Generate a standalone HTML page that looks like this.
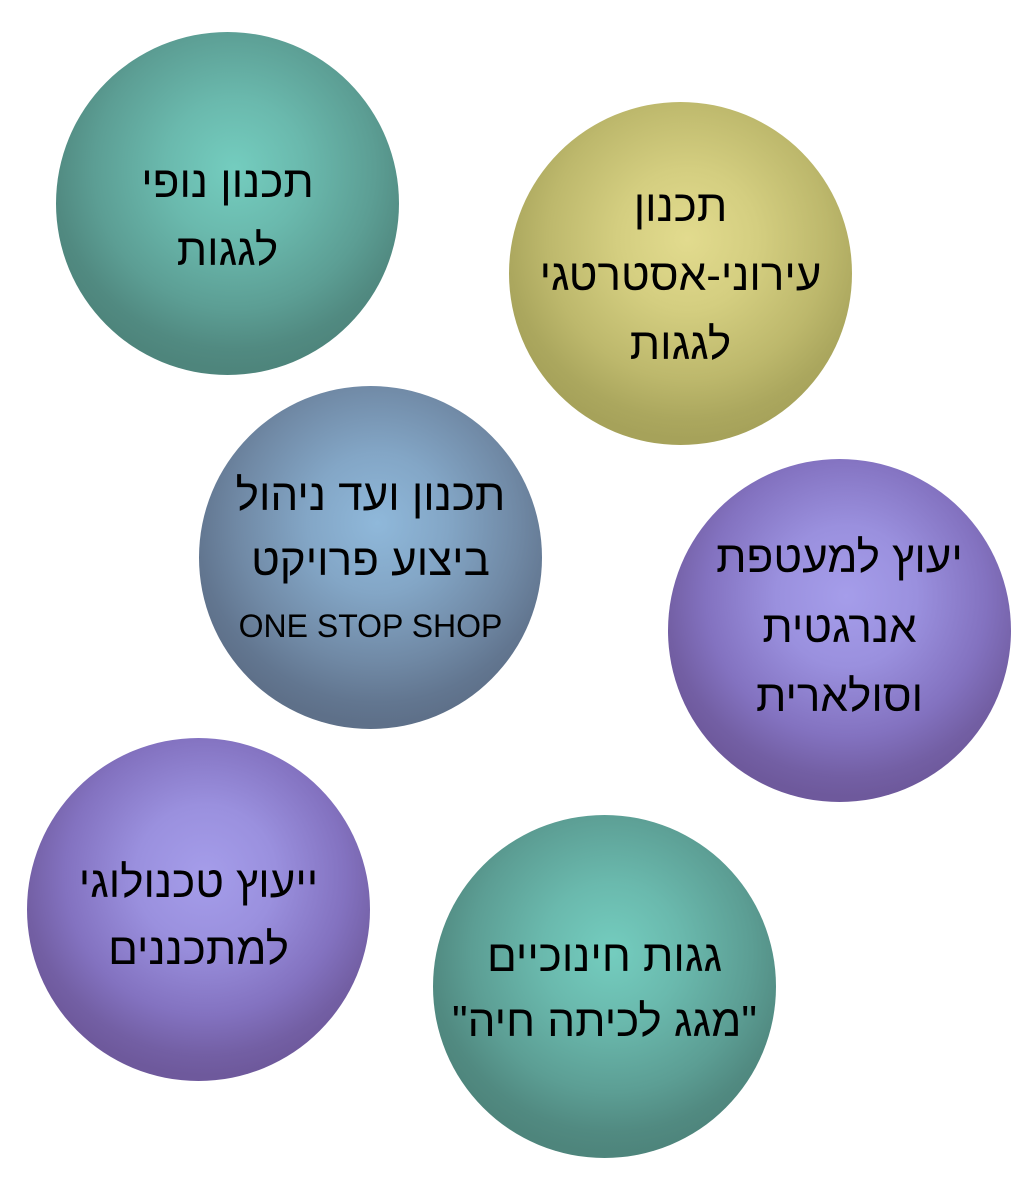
<!DOCTYPE html>
<html><head><meta charset="utf-8"><style>
html,body{margin:0;padding:0;background:#fff;}
body{width:1033px;height:1200px;position:relative;overflow:hidden;font-family:"Liberation Sans","DejaVu Sans",sans-serif;}
.c{position:absolute;border-radius:50%;width:343px;height:343px;}
.t{position:absolute;left:0;width:100%;text-align:center;direction:rtl;font-size:44px;color:#000;line-height:1;white-space:nowrap;}
.teal{background:radial-gradient(circle 200px at 52% 40%,#74cdbf 0%,#6ab9ad 35%,#5c9e94 70%,#518a81 90%,#4e857c 100%);}
.olive{background:radial-gradient(circle 200px at 52% 40%,#e2db8e 0%,#d4ce80 35%,#bdb86c 70%,#aba75e 90%,#a6a25a 100%);}
.blue{background:radial-gradient(circle 200px at 52% 40%,#8fb8da 0%,#83a6c6 35%,#7089a5 70%,#627690 90%,#5e7089 100%);}
.purple{background:radial-gradient(circle 200px at 52% 40%,#a59dea 0%,#9a90de 35%,#8372c0 70%,#735fa4 90%,#6e599c 100%);}
</style></head><body>
<div class="c teal" style="left:56px;top:32px;">
 <div class="t" style="top:129px">תכנון נופי</div>
 <div class="t" style="top:197px">לגגות</div>
</div>
<div class="c olive" style="left:509px;top:102px;">
 <div class="t" style="top:83px">תכנון</div>
 <div class="t" style="top:152px">עירוני-אסטרטגי</div>
 <div class="t" style="top:221px">לגגות</div>
</div>
<div class="c blue" style="left:199px;top:386px;">
 <div class="t" style="top:88px">תכנון ועד ניהול</div>
 <div class="t" style="top:153px">ביצוע פרויקט</div>
 <div class="t" style="top:224px;font-size:32px;direction:ltr">ONE STOP SHOP</div>
</div>
<div class="c purple" style="left:668px;top:459px;">
 <div class="t" style="top:77px">יעוץ למעטפת</div>
 <div class="t" style="top:147px">אנרגטית</div>
 <div class="t" style="top:216px">וסולארית</div>
</div>
<div class="c purple" style="left:27px;top:738px;">
 <div class="t" style="top:123px">ייעוץ טכנולוגי</div>
 <div class="t" style="top:190px">למתכננים</div>
</div>
<div class="c teal" style="left:433px;top:815px;">
 <div class="t" style="top:120px">גגות חינוכיים</div>
 <div class="t" style="top:185px">"מגג לכיתה חיה"</div>
</div>
</body></html>
